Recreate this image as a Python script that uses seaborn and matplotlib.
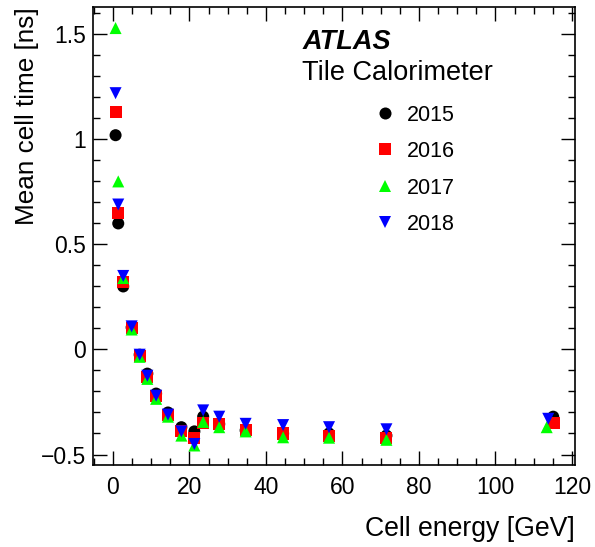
import numpy as np
import pandas as pd
import matplotlib
matplotlib.use("Agg")
import matplotlib.pyplot as plt
import seaborn as sns
from matplotlib.ticker import MultipleLocator

sns.set_style("ticks")
plt.rcParams['font.family'] = ['Liberation Sans', 'DejaVu Sans']
plt.rcParams.update({"text.color": "black", "axes.labelcolor": "black",
                     "xtick.color": "black", "ytick.color": "black",
                     "axes.edgecolor": "black"})

years = ["2015", "2016", "2017", "2018"]
energy = [0.7, 1.4, 2.7, 4.9, 7.0, 9.0, 11.3, 14.4, 17.9, 21.3, 23.6, 27.8, 34.7, 44.5, 56.5, 71.5]
last_energy = {"2015": 115.1, "2016": 115.3, "2017": 113.4, "2018": 113.8}
t2015 = [1.02, 0.60, 0.30, 0.105, -0.025, -0.115, -0.21, -0.30, -0.37, -0.39, -0.32, -0.355, -0.385, -0.40, -0.40, -0.41, -0.32]
t2016 = [1.13, 0.65, 0.32, 0.10, -0.03, -0.13, -0.22, -0.31, -0.39, -0.42, -0.35, -0.355, -0.385, -0.40, -0.41, -0.42, -0.35]
t2017 = [1.53, 0.80, 0.34, 0.095, -0.035, -0.14, -0.235, -0.32, -0.41, -0.457, -0.345, -0.37, -0.39, -0.418, -0.42, -0.43, -0.37]
t2018 = [1.22, 0.69, 0.35, 0.11, -0.025, -0.125, -0.22, -0.31, -0.39, -0.45, -0.29, -0.32, -0.354, -0.36, -0.37, -0.38, -0.33]
times = {"2015": t2015, "2016": t2016, "2017": t2017, "2018": t2018}

rows = []
for y in years:
    es = energy + [last_energy[y]]
    for e, t in zip(es, times[y]):
        rows.append({"Energy": e, "Time": t, "Year": y})
df = pd.DataFrame(rows)

palette = {"2015": "#000000", "2016": "#ff0000", "2017": "#00ff00", "2018": "#0000ff"}
markers = {"2015": "o", "2016": "s", "2017": "^", "2018": "v"}

fig = plt.figure(figsize=(5.95, 5.47), dpi=100)
ax = fig.add_axes([0.1563, 0.1499, 0.8101, 0.8372])

sns.scatterplot(data=df, x="Energy", y="Time", hue="Year", style="Year",
                palette=palette, markers=markers, s=75, linewidth=0,
                hue_order=years, style_order=years, ax=ax, legend=True)

ax.set_xlim(-5.2, 120.8)
ax.set_ylim(-0.55, 1.63)

ax.xaxis.set_major_locator(MultipleLocator(20))
ax.xaxis.set_minor_locator(MultipleLocator(5))
ax.yaxis.set_major_locator(MultipleLocator(0.5))
ax.yaxis.set_minor_locator(MultipleLocator(0.1))
ax.yaxis.set_major_formatter(matplotlib.ticker.FuncFormatter(lambda v, p: f"{v:g}".replace("-", "\u2212")))
ax.tick_params(which="both", direction="in", top=True, right=True, labelsize=16.5, width=1, color="black")
ax.tick_params(which="major", length=10)
ax.tick_params(which="minor", length=5)
ax.tick_params(axis="x", pad=8)
ax.tick_params(axis="y", pad=5)
for s in ax.spines.values():
    s.set_linewidth(1.2)
    s.set_color("black")

ax.set_xlabel("Cell energy [GeV]", fontsize=19.2, loc="right", labelpad=12)
ax.set_ylabel("Mean cell time [ns]", fontsize=18.8, loc="top", labelpad=1)

ax.text(0.434, 0.924, "ATLAS", transform=ax.transAxes, fontsize=19.5,
        fontweight="bold", fontstyle="italic", va="center", ha="left")
ax.text(0.434, 0.856, "Tile Calorimeter", transform=ax.transAxes, fontsize=19.5,
        va="center", ha="left")

handles, labels = ax.get_legend_handles_labels()
ax.legend(handles, labels, loc="upper left", bbox_to_anchor=(0.566, 0.806),
          frameon=False, fontsize=15.5, labelspacing=0.72, handletextpad=0.52,
          handlelength=1.0, markerscale=1.0, borderaxespad=0)

fig.savefig("out.png", dpi=100)
